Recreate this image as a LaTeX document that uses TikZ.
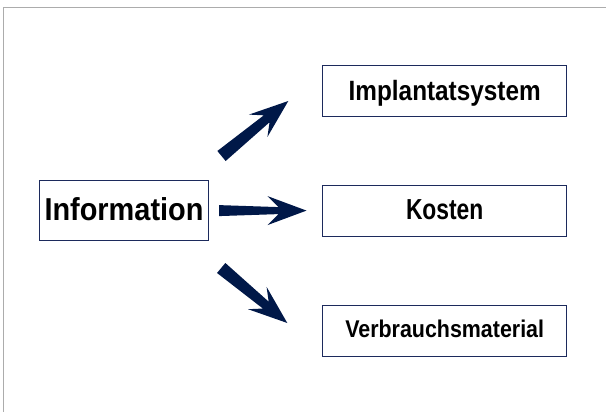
\documentclass[tikz,border=0pt]{standalone}
\usepackage{fontspec}
\usepackage{graphicx}
\setmainfont{Liberation Sans}
\usetikzlibrary{calc}
\definecolor{navy}{RGB}{0,24,72}
\definecolor{boxline}{RGB}{28,42,92}
\definecolor{framegray}{RGB}{172,172,172}
\newcommand\fatarrow[4]{%
  \coordinate (#1n) at ($(#2)!28pt!(#1)$);
  \coordinate (#1b) at ($(#2)!39pt!(#1)$);
  \fill[navy] ($(#1)!#3!90:(#2)$) -- ($(#1n)!#4!90:(#2)$) -- ($(#1b)!14.5pt!90:(#2)$) -- (#2)
    -- ($(#1b)!14.5pt!-90:(#2)$) -- ($(#1n)!#4!-90:(#2)$) -- ($(#1)!#3!-90:(#2)$) -- cycle;
}
\tikzset{
  box/.style={draw=boxline, line width=1pt, fill=white, inner sep=0pt, outer sep=0pt,
    text depth=3pt, text=black},
}
\begin{document}
\begin{tikzpicture}[x=1pt, y=-1pt]
\useasboundingbox (0,0) rectangle (606,412);
\fill[white] (0,0) rectangle (606,412);
% frame (top and left edges only visible)
\coordinate (f0) at (3.7,412);
\coordinate (f1) at (3.7,7.3);
\coordinate (f2) at (606,7.3);
\draw[framegray, line width=1.5pt] (f0) -- (f1) -- (f2);
% nodes
\node[box, minimum width=169.3pt, minimum height=60.5pt,
  font=\fontsize{31.7}{36}\selectfont\bfseries] (info) at (124,210.3)
  {\scalebox{0.912}[1]{Information}};
\node[box, minimum width=244pt, minimum height=51pt,
  font=\fontsize{27.9}{32}\selectfont\bfseries] (impl) at (444.7,91.5)
  {\scalebox{0.872}[1]{Implantatsystem}};
\node[box, minimum width=244pt, minimum height=50.7pt,
  font=\fontsize{28.9}{32}\selectfont\bfseries] (kost) at (444.7,211.3)
  {\scalebox{0.79}[1]{Kosten}};
\node[box, minimum width=244pt, minimum height=51pt,
  font=\fontsize{24.2}{28}\selectfont\bfseries] (verb) at (444.7,330.5)
  {\scalebox{0.885}[1]{Verbrauchsmaterial}};
% arrows
\coordinate (t1) at (221.5,156);
\coordinate (h1) at (288.3,101);
\coordinate (t2) at (219,210.6);
\coordinate (h2) at (306.5,210.6);
\coordinate (t3) at (221.2,268);
\coordinate (h3) at (287.3,323);
\fatarrow{t1}{h1}{6.5pt}{4.5pt}
\fatarrow{t2}{h2}{5.5pt}{3.5pt}
\fatarrow{t3}{h3}{6.5pt}{4.5pt}
\end{tikzpicture}
\end{document}
